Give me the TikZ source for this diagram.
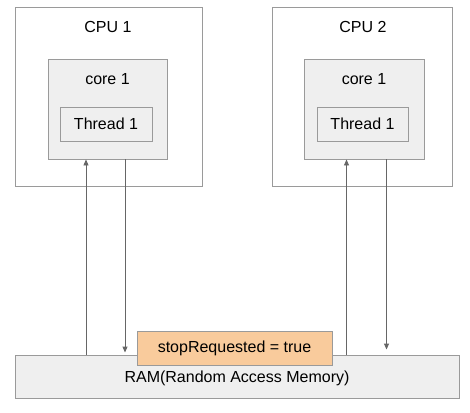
\documentclass[tikz,border=0pt]{standalone}
\usepackage{fontspec}
\setmainfont{Liberation Sans}
\usetikzlibrary{arrows.meta}
\definecolor{edgegray}{HTML}{9A9A9A}
\definecolor{boxfill}{HTML}{EFEFEF}
\definecolor{arrgray}{HTML}{666666}
\definecolor{orangefill}{HTML}{F9CB9C}
\tikzset{
  box/.style={draw=edgegray, line width=0.9pt, inner sep=0pt},
  grey/.style={box, fill=boxfill},
  big/.style={font=\fontsize{16}{18}\selectfont},
  lbl/.style={big, inner sep=0pt},
  arr/.style={draw=arrgray, line width=0.9pt, -{Triangle[length=6pt,width=5pt]}}
}
\begin{document}
\begin{tikzpicture}[x=1pt,y=-1pt]
\useasboundingbox (0,0) rectangle (470,412);
% CPU 1
\node[box, minimum width=187pt, minimum height=179pt] (cpu1) at (108.5,96.5) {};
\node[lbl] (cpu1t) at (108,27) {CPU 1};
\node[grey, minimum width=119pt, minimum height=100pt] (core1) at (107.5,109) {};
\node[lbl] (core1t) at (107.5,79) {core 1};
\node[grey, big, minimum width=92pt, minimum height=34pt] (th1) at (106,124) {Thread 1};
% CPU 2
\node[box, minimum width=180pt, minimum height=179pt] (cpu2) at (362,96.5) {};
\node[lbl] (cpu2t) at (363,27) {CPU 2};
\node[grey, minimum width=120pt, minimum height=100pt] (core2) at (364,109) {};
\node[lbl] (core2t) at (364,79) {core 1};
\node[grey, big, minimum width=91pt, minimum height=34pt] (th2) at (362.5,124) {Thread 1};
% RAM
\node[grey, minimum width=444pt, minimum height=43pt] (ram) at (237,376.5) {};
\node[lbl] (ramt) at (237,378) {RAM(Random Access Memory)};
\node[box, big, fill=orangefill, minimum width=195pt, minimum height=34pt] (stop) at (234.5,348) {stopRequested = true};
% connectors
\coordinate (a1) at (86,0);
\coordinate (b1) at (125,0);
\coordinate (a2) at (346.5,0);
\coordinate (b2) at (386.5,0);
\draw[arr] (ram.north -| a1) -- (core1.south -| a1);
\draw[arr, shorten >=2pt] (core1.south -| b1) -- (ram.north -| b1);
\draw[arr] (ram.north -| a2) -- (core2.south -| a2);
\draw[arr, shorten >=5pt] (core2.south -| b2) -- (ram.north -| b2);
\end{tikzpicture}
\end{document}
